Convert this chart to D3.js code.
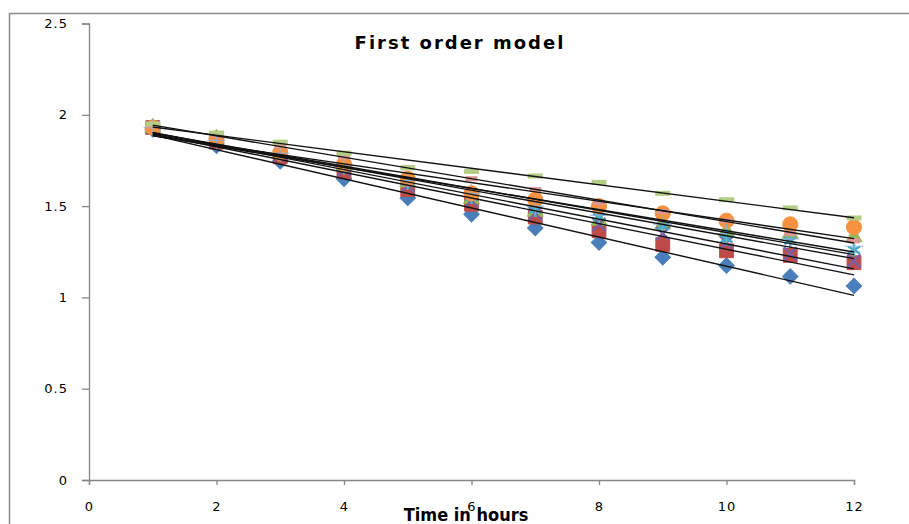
<!DOCTYPE html>
<html>
<head>
<meta charset="utf-8">
<script src="https://cdn.jsdelivr.net/npm/d3@7"></script>
<style>
  body { margin: 0; background: #fff; }
  svg { display: block; }
</style>
</head>
<body>
<div id="chart"></div>
<script>
// dimensions
const width = 909;
const height = 524;

// data: hours and log concentration per series
const hours = [1, 2, 3, 4, 5, 6, 7, 8, 9, 10, 11, 12];
const yTicks = [0, 0.5, 1, 1.5, 2, 2.5];
const xTicks = [0, 2, 4, 6, 8, 10, 12];

const s1 = [1.92, 1.83, 1.745, 1.65, 1.545, 1.455, 1.38, 1.30, 1.22, 1.175, 1.115, 1.063];
const s2 = [1.93, 1.85, 1.77, 1.69, 1.59, 1.51, 1.44, 1.365, 1.29, 1.255, 1.23, 1.19];
const s3 = [1.93, 1.87, 1.79, 1.72, 1.63, 1.54, 1.47, 1.42, 1.40, 1.36, 1.35, 1.33];
const s4 = [1.93, 1.86, 1.78, 1.70, 1.61, 1.53, 1.46, 1.40, 1.35, 1.30, 1.24, 1.20];
const s5 = [1.93, 1.86, 1.79, 1.71, 1.63, 1.55, 1.48, 1.44, 1.39, 1.32, 1.31, 1.26];
const s6 = [1.93, 1.87, 1.79, 1.73, 1.65, 1.57, 1.535, 1.50, 1.46, 1.42, 1.40, 1.385];
const s7 = [1.93, 1.86, 1.79, 1.72, 1.64, 1.57, 1.50, 1.45, 1.40, 1.35, 1.32, 1.28];
const s8 = [1.94, 1.89, 1.83, 1.77, 1.71, 1.65, 1.59, 1.52, 1.47, 1.42, 1.35, 1.31];
const s9 = [1.95, 1.90, 1.85, 1.79, 1.71, 1.69, 1.665, 1.63, 1.57, 1.535, 1.49, 1.435];

const seriesValues = [s1, s2, s3, s4, s5, s6, s7, s8, s9];
const seriesColors = ["#4a7ebb", "#be4b48", "#98b954", "#7d60a0", "#46aac5", "#f69240", "#8fb0dc", "#dd9795", "#b4cd85"];
const seriesMarkers = ["diamond", "square", "triangle", "x", "star", "circle", "plus", "dash", "longdash"];

const svg = d3.select("#chart").append("svg")
    .attr("width", width)
    .attr("height", height);

// outer chart frame
svg.append("rect")
    .attr("x", 9.5).attr("y", 13.5)
    .attr("width", 940).attr("height", 560)
    .attr("fill", "none")
    .attr("stroke", "#8c8c8c")
    .attr("stroke-width", 1.5);

const x = d3.scaleLinear().domain([0, 12]).range([89, 854]);
const y = d3.scaleLinear().domain([0, 2.5]).range([480, 23.5]);

// axes
const yAxis = svg.append("g")
    .attr("transform", `translate(${x(0)},0)`)
    .call(d3.axisLeft(y).tickValues(yTicks).tickSize(7).tickPadding(14).tickFormat(d3.format("")));

const xAxis = svg.append("g")
    .attr("transform", `translate(0,${y(0)})`)
    .call(d3.axisBottom(x).tickValues(xTicks).tickSize(5).tickPadding(17).tickFormat(d3.format("")));

[xAxis, yAxis].forEach(a => {
    a.select(".domain").attr("stroke", "#868686").attr("stroke-width", 1.3);
    a.selectAll(".tick line").attr("stroke", "#868686").attr("stroke-width", 1.3);
    a.selectAll(".tick text")
        .attr("fill", "#000")
        .style("font-family", "DejaVu Sans")
        .style("font-size", "13px")
        .style("letter-spacing", "1px");
});

// markers
function markerPath(type) {
    switch (type) {
        case "diamond": return d3.symbol(d3.symbolSquare, 120)();
        case "square": return d3.symbol(d3.symbolSquare, 190)();
        case "triangle": return d3.symbol(d3.symbolTriangle, 110)();
        case "circle": return d3.symbol(d3.symbolCircle, 180)();
        case "x": return d3.symbol(d3.symbolTimes, 110)();
        case "star": return d3.symbol(d3.symbolAsterisk, 130)();
        case "plus": return d3.symbol(d3.symbolPlus, 110)();
        default: return null;
    }
}

seriesValues.forEach((vals, i) => {
    const type = seriesMarkers[i];
    const color = seriesColors[i];
    const g = svg.append("g").attr("class", "series-" + (i + 1));
    const pts = g.selectAll("g")
        .data(hours.map((h, j) => ({ h, v: vals[j] })))
        .join("g")
        .attr("transform", d => `translate(${x(d.h)},${y(d.v)})` + (type === "diamond" ? " rotate(45)" : ""));

    if (type === "dash" || type === "longdash") {
        const w = type === "dash" ? 12 : 15;
        pts.append("rect")
            .attr("x", -w / 2).attr("y", -2.5)
            .attr("width", w).attr("height", 5)
            .attr("fill", color);
    } else if (type === "x" || type === "star") {
        pts.append("path")
            .attr("d", markerPath(type))
            .attr("fill", "none")
            .attr("stroke", color)
            .attr("stroke-width", 2.5);
    } else {
        pts.append("path")
            .attr("d", markerPath(type))
            .attr("fill", color)
            .attr("stroke", color)
            .attr("stroke-width", 1);
    }
});

// linear trend lines (least squares) for each series
function linearFit(xs, ys) {
    const mx = d3.mean(xs), my = d3.mean(ys);
    const slope = d3.sum(xs, (v, k) => (v - mx) * (ys[k] - my)) / d3.sum(xs, v => (v - mx) ** 2);
    return { slope, intercept: my - slope * mx };
}

const line = d3.line().x(d => x(d[0])).y(d => y(d[1]));
const x0 = d3.min(hours), x1 = d3.max(hours);

seriesValues.forEach(vals => {
    const fit = linearFit(hours, vals);
    svg.append("path")
        .attr("d", line([[x0, fit.intercept + fit.slope * x0], [x1, fit.intercept + fit.slope * x1]]))
        .attr("fill", "none")
        .attr("stroke", "#111")
        .attr("stroke-width", 1.4);
});

// titles
svg.append("text")
    .attr("x", 460).attr("y", 49)
    .attr("text-anchor", "middle")
    .style("font-family", "DejaVu Sans")
    .style("font-weight", "bold")
    .style("font-size", "18px")
    .style("letter-spacing", "2px")
    .text("First order model");

svg.append("text")
    .attr("x", 466).attr("y", 521)
    .attr("text-anchor", "middle")
    .style("font-family", "DejaVu Sans Condensed, DejaVu Sans")
    .style("font-weight", "bold")
    .style("font-size", "18px")
    .text("Time in hours");
</script>
</body>
</html>
